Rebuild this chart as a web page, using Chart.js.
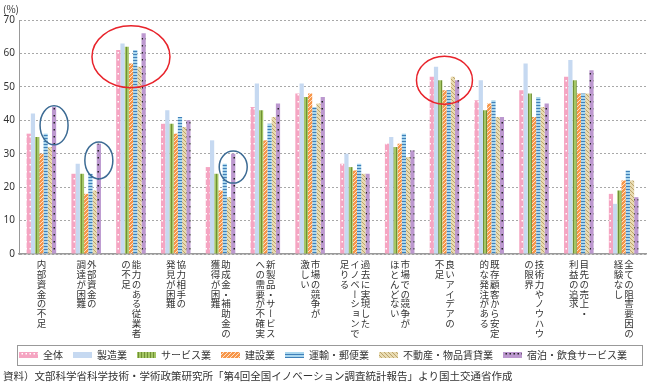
<!DOCTYPE html>
<html lang="ja">
<head>
<meta charset="utf-8">
<script src="https://cdn.jsdelivr.net/npm/chart.js@4.4.1/dist/chart.umd.min.js"></script>
<style>
  html, body{ margin:0; padding:0; background:#fff; }
  #keret{ position:relative; width:649px; height:384px; overflow:hidden; font-family:"Noto Sans CJK JP", "Noto Sans", sans-serif; color:#333; }
  #grafikonDoboz{ position:absolute; left:0; top:0; width:649px; height:370px; }
  #szazalek{ position:absolute; left:3px; top:1px; font-size:10px; }
  .kat{ position:absolute; top:0; writing-mode:vertical-rl; font-size:9.5px; line-height:10.5px; letter-spacing:0.25px; white-space:nowrap; color:#333; }
  #forras{ position:absolute; left:3px; top:368px; font-size:10.5px; white-space:nowrap; color:#333; }
</style>
</head>
<body>
<div id="keret">
  <div id="grafikonDoboz"><canvas id="akadalyChart"></canvas></div>
  <div id="szazalek">(%)</div>
  <div id="forras">資料）文部科学省科学技術・学術政策研究所「第4回全国イノベーション調査統計報告」より国土交通省作成</div>
</div>
<script>
// ---------- ADATOK ----------
const kategoriak = [
  ['内部資金の不足'],
  ['外部資金の', '調達が困難'],
  ['能力のある従業者', 'の不足'],
  ['協力相手の', '発見が困難'],
  ['助成金・補助金の', '獲得が困難'],
  ['新製品・サービス', 'への需要が不確実'],
  ['市場の競争が', '激しい'],
  ['過去に実現した', 'イノベーションで', '足りる'],
  ['市場での競争が', 'ほとんどない'],
  ['良いアイデアの', '不足'],
  ['既存顧客から安定', '的な発注がある'],
  ['技術力やノウハウ', 'の限界'],
  ['目先の売上・', '利益の追求'],
  ['全ての阻害要因の', '経験なし']
];

const sorozatNevek = ['全体', '製造業', 'サービス業', '建設業', '運輸・郵便業', '不動産・物品賃貸業', '宿泊・飲食サービス業'];

const osszes      = [36, 24, 61, 39, 26, 44, 48, 27, 33, 53, 46, 49, 53, 18];
const gyartas     = [42, 27, 63, 43, 34, 51, 51, 30, 35, 56, 52, 57, 58, 15];
const szolgaltatas= [35, 24, 62, 39, 24, 43, 47, 26, 32, 52, 43, 48, 52, 19];
const epitoipar   = [30, 18, 57, 36, 19, 34, 48, 25, 33, 49, 45, 41, 48, 22];
const szallitas   = [36, 24, 61, 41, 27, 39, 44, 27, 36, 49, 46, 47, 48, 25];
const ingatlan    = [32, 19, 56, 38, 17, 41, 45, 24, 29, 53, 41, 44, 48, 22];
const vendeglatas = [44, 33, 66, 40, 30, 45, 47, 24, 31, 52, 41, 45, 55, 17];

const yTickek = [0, 10, 20, 30, 40, 50, 60, 70];

// kiemelések: piros = kategória közepén, kék = a szálláshely oszlopán
const pirosKorok = [ { kat:2, ertek:59, rx:39, ry:31 }, { kat:9, ertek:52, rx:28, ry:24 } ];
const kekKorok   = [ { kat:0, ertek:38.5, rx:14, ry:19.5 }, { kat:1, ertek:28, rx:14, ry:18.5 }, { kat:4, ertek:26, rx:14, ry:16 } ];

// ---------- MINTÁK ----------
function minta(w, h, alap, rajzol){
  const c = document.createElement('canvas');
  c.width = w; c.height = h;
  const g = c.getContext('2d');
  g.fillStyle = alap;
  g.fillRect(0, 0, w, h);
  rajzol(g);
  return g.createPattern(c, 'repeat');
}

const mintak = [
  minta(4, 7, '#f5a5c2', g => { g.fillStyle = '#fff'; g.fillRect(1.5, 3, 1.5, 1.5); }),
  '#c6d9f1',
  minta(3, 1, '#a4c665', g => { g.fillStyle = '#6f9034'; g.fillRect(0, 0, 1, 1); }),
  minta(4, 4, '#f7964a', g => { g.fillStyle = '#fde2c8'; for(let i = 0; i < 4; i++) g.fillRect(i, 3 - i, 1, 1); }),
  minta(1, 3, '#a9d6ee', g => { g.fillStyle = '#3f7fb8'; g.fillRect(0, 0, 1, 1); }),
  minta(4, 4, '#e8dbb2', g => { g.fillStyle = '#bca36a'; for(let i = 0; i < 4; i++) g.fillRect(i, i, 1, 1); }),
  minta(4, 7, '#bc98cf', g => { g.fillStyle = '#222'; g.fillRect(1.5, 3, 1.5, 1.5); })
];

const ertekek = [osszes, gyartas, szolgaltatas, epitoipar, szallitas, ingatlan, vendeglatas];

// ---------- PLUGINOK ----------
const jelmagyarazatKeret = {
  id:'jelmagyarazatKeret',
  afterDraw(chart){
    const lg = chart.legend;
    if(!lg || !lg.legendHitBoxes || !lg.legendHitBoxes.length) return;
    const dobozok = lg.legendHitBoxes;
    const fent = Math.min(...dobozok.map(b => b.top)) - 5;
    const lent = Math.max(...dobozok.map(b => b.top + b.height)) + 5;
    const { left, right } = chart.chartArea;
    const ctx = chart.ctx;
    ctx.save();
    ctx.strokeStyle = '#999';
    ctx.lineWidth = 1;
    ctx.strokeRect(Math.round(left) - 1.5, Math.round(fent) + 0.5, right - left - 2, Math.round(lent - fent));
    ctx.restore();
  }
};

const kiemelesek = {
  id:'kiemelesek',
  afterDatasetsDraw(chart){
    const ctx = chart.ctx;
    const x = chart.scales.x, y = chart.scales.y;
    ctx.save();
    ctx.lineWidth = 1.5;
    ctx.strokeStyle = '#e8232b';
    pirosKorok.forEach(k => {
      ctx.beginPath();
      ctx.ellipse(x.getPixelForValue(k.kat), y.getPixelForValue(k.ertek), k.rx, k.ry, 0, 0, Math.PI * 2);
      ctx.stroke();
    });
    ctx.strokeStyle = '#3c6b94';
    const meta = chart.getDatasetMeta(6);
    kekKorok.forEach(k => {
      ctx.beginPath();
      ctx.ellipse(meta.data[k.kat].x, y.getPixelForValue(k.ertek), k.rx, k.ry, 0, 0, Math.PI * 2);
      ctx.stroke();
    });
    ctx.restore();
  }
};

// ---------- GRAFIKON ----------
const betu = "'Noto Sans CJK JP', 'Noto Sans', sans-serif";

const chart = new Chart(document.getElementById('akadalyChart').getContext('2d'), {
  type:'bar',
  data:{
    labels: kategoriak.map(k => k.join('')),
    datasets: sorozatNevek.map((nev, i) => ({
      label: nev,
      data: ertekek[i],
      backgroundColor: mintak[i],
      borderWidth: 0,
      categoryPercentage: 0.66,
      barPercentage: 1
    }))
  },
  options:{
    responsive:true,
    maintainAspectRatio:false,
    animation:false,
    layout:{ padding:{ top:20, right:3, left:0, bottom:0 } },
    plugins:{
      legend:{
        position:'bottom',
        labels:{ boxWidth:19, boxHeight:6, padding:10, color:'#333', font:{ size:10, family:betu } }
      },
      tooltip:{ enabled:false }
    },
    scales:{
      x:{
        grid:{ display:false, drawTicks:false },
        border:{ color:'#999', width:1.5 },
        ticks:{ display:false },
        afterFit: (s) => { s.height = 86; }
      },
      y:{
        min:0, max:70,
        afterBuildTicks: (s) => { s.ticks = yTickek.map(v => ({ value:v })); },
        grid:{ color:'#a8a8a8', drawTicks:false },
        border:{ display:true, color:'#999', width:1, dash:[2, 2] },
        ticks:{ color:'#333', padding:4, font:{ size:10, family:"'Noto Sans', sans-serif" } },
        afterFit: (s) => { s.width = 19; }
      }
    }
  },
  plugins:[jelmagyarazatKeret, kiemelesek]
});

// ---------- FÜGGŐLEGES KATEGÓRIA FELIRATOK ----------
function feliratokElhelyezese(){
  const keret = document.getElementById('keret');
  keret.querySelectorAll('.kat').forEach(el => el.remove());
  const xs = chart.scales.x;
  const also = chart.chartArea.bottom;
  kategoriak.forEach((sorok, i) => {
    const el = document.createElement('div');
    el.className = 'kat';
    el.innerHTML = sorok.join('<br>');
    keret.appendChild(el);
    el.style.left = (xs.getPixelForValue(i) - el.offsetWidth / 2) + 'px';
    el.style.top = (also + 6) + 'px';
  });
}
feliratokElhelyezese();
</script>
</body>
</html>
